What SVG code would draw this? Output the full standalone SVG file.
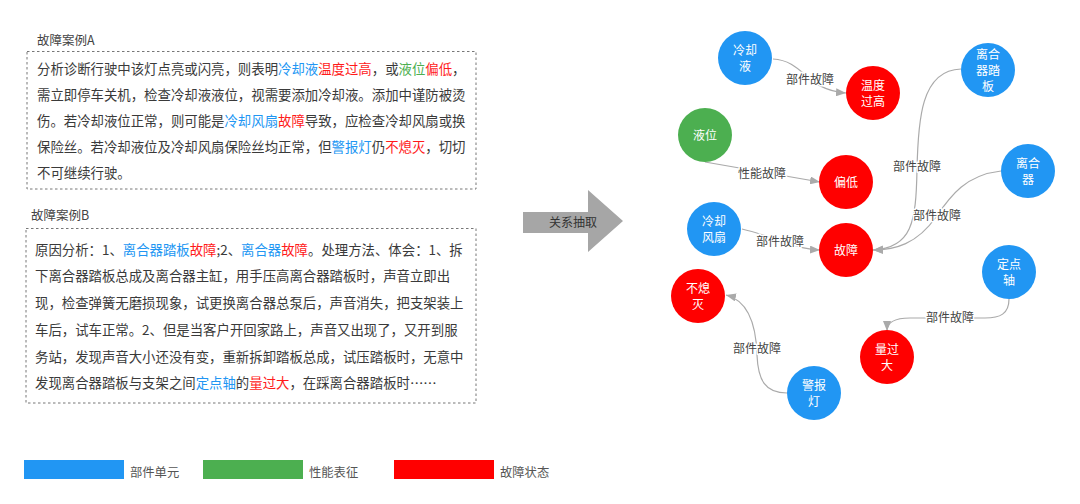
<svg xmlns="http://www.w3.org/2000/svg" width="1080" height="504" viewBox="0 0 1080 504">
<style>
text{font-family:"Noto Sans CJK SC","Liberation Sans",sans-serif;}
.body{font-size:13.4px;fill:#3a3a3a;}
.title{font-size:12.5px;fill:#444;}
.b{fill:#2196F3;}
.r{fill:#ff1a1a;}
.g{fill:#4CAF50;}
.box{fill:none;stroke:#777;stroke-width:1;stroke-dasharray:2.5 2.5;}
.nb{fill:#2196F3;}
.ng{fill:#4CAF50;}
.nr{fill:#ff0000;}
.nt{font-size:12px;fill:#fff;text-anchor:middle;}
.edge{fill:none;stroke:#aaaaaa;stroke-width:1.2;marker-end:url(#arr);}
.el{font-size:12px;fill:#444;text-anchor:middle;stroke:#fff;stroke-width:3px;paint-order:stroke;stroke-linejoin:round;}
.lg{font-size:12.3px;fill:#555;}
</style>
<defs>
<marker id="arr" viewBox="0 0 10 8" refX="10" refY="4" markerWidth="10" markerHeight="8" markerUnits="userSpaceOnUse" orient="auto">
<path d="M0,0 L10,4 L0,8 Z" fill="#aaaaaa"/>
</marker>
</defs>
<rect width="1080" height="504" fill="#fff"/>

<g id="caseA">
<text class="title" x="37" y="45">故障案例A</text>
<rect class="box" x="27" y="51.5" width="449" height="137.5"/>
<text class="body" x="37" y="73.5">分析诊断行驶中该灯点亮或闪亮，则表明<tspan class="b">冷却液</tspan><tspan class="r">温度过高</tspan>，或<tspan class="g">液位</tspan><tspan class="r">偏低</tspan>，</text>
<text class="body" x="37" y="99.7">需立即停车关机，检查冷却液液位，视需要添加冷却液。添加中谨防被烫</text>
<text class="body" x="37" y="125.9">伤。若冷却液位正常，则可能是<tspan class="b">冷却风扇</tspan><tspan class="r">故障</tspan>导致，应检查冷却风扇或换</text>
<text class="body" x="37" y="152.1">保险丝。若冷却液位及冷却风扇保险丝均正常，但<tspan class="b">警报灯</tspan>仍<tspan class="r">不熄灭</tspan>，切切</text>
<text class="body" x="37" y="178.3">不可继续行驶。</text>
</g>

<g id="caseB">
<text class="title" x="31" y="219.5">故障案例B</text>
<rect class="box" x="26" y="228.5" width="450" height="174.5"/>
<text class="body" x="35" y="254.7">原因分析：1、<tspan class="b">离合器踏板</tspan><tspan class="r">故障</tspan>;2、<tspan class="b">离合器</tspan><tspan class="r">故障</tspan>。处理方法、体会：1、拆</text>
<text class="body" x="35" y="281.4">下离合器踏板总成及离合器主缸，用手压高离合器踏板时，声音立即出</text>
<text class="body" x="35" y="308.1">现，检查弹簧无磨损现象，试更换离合器总泵后，声音消失，把支架装上</text>
<text class="body" x="35" y="334.8">车后，试车正常。2、但是当客户开回家路上，声音又出现了，又开到服</text>
<text class="body" x="35" y="361.5">务站，发现声音大小还没有变，重新拆卸踏板总成，试压踏板时，无意中</text>
<text class="body" x="35" y="388.2">发现离合器踏板与支架之间<tspan class="b">定点轴</tspan>的<tspan class="r">量过大</tspan>，在踩离合器踏板时……</text>
</g>

<g id="bigArrow">
<path d="M523,212 L588,212 L588,190 L623,221 L588,252 L588,233 L523,233 Z" fill="#a6a6a6"/>
<text x="573" y="227" font-size="12px" fill="#333" text-anchor="middle">关系抽取</text>
</g>

<g id="connectors">
<path class="edge" d="M773,59 C805,61 805,90 846,93"/>
<path class="edge" d="M705,162 C735,167 790,177 820,182"/>
<path class="edge" d="M742,229 C772,236 795,249 820,250"/>
<path class="edge" d="M961,69 C921,70 918,120 917,170 C916,222 912,248 873,250"/>
<path class="edge" d="M1001,171 C966,175 951,195 936,217 C917,244 895,250 873,250"/>
<path class="edge" d="M1009,299 C1009,314 1000,318 985,318 L910,318 C895,318 887,322 887,331"/>
<path class="edge" d="M787,393 C765,393 758,380 757,355 C756,320 746,300 726,295"/>
<text class="el" x="810" y="84">部件故障</text>
<text class="el" x="762" y="177.5">性能故障</text>
<text class="el" x="780" y="245.5">部件故障</text>
<text class="el" x="917" y="170.5">部件故障</text>
<text class="el" x="937" y="219.5">部件故障</text>
<text class="el" x="950" y="321.5">部件故障</text>
<text class="el" x="757" y="353">部件故障</text>
</g>

<g id="n-lengquean">
<circle class="nb" cx="745" cy="58" r="27"/>
<text class="nt" x="745" y="54.5">冷却</text><text class="nt" x="745" y="70.5">液</text>
</g>
<g id="n-wendu">
<circle class="nr" cx="873" cy="93" r="27"/>
<text class="nt" x="873" y="89.5">温度</text><text class="nt" x="873" y="105.5">过高</text>
</g>
<g id="n-tabban">
<circle class="nb" cx="988" cy="70" r="27"/>
<text class="nt" x="988" y="58.5">离合</text><text class="nt" x="988" y="74.5">器踏</text><text class="nt" x="988" y="90.5">板</text>
</g>
<g id="n-yewei">
<circle class="ng" cx="705" cy="135" r="27"/>
<text class="nt" x="705" y="139.5">液位</text>
</g>
<g id="n-piandi">
<circle class="nr" cx="846" cy="182" r="27"/>
<text class="nt" x="846" y="186.5">偏低</text>
</g>
<g id="n-liheqi">
<circle class="nb" cx="1028" cy="171" r="27"/>
<text class="nt" x="1028" y="167.5">离合</text><text class="nt" x="1028" y="183.5">器</text>
</g>
<g id="n-fengshan">
<circle class="nb" cx="714" cy="229" r="27"/>
<text class="nt" x="714" y="225.5">冷却</text><text class="nt" x="714" y="241.5">风扇</text>
</g>
<g id="n-guzhang">
<circle class="nr" cx="846" cy="250" r="27"/>
<text class="nt" x="846" y="254.5">故障</text>
</g>
<g id="n-dingdian">
<circle class="nb" cx="1009" cy="272" r="27"/>
<text class="nt" x="1009" y="268.5">定点</text><text class="nt" x="1009" y="284.5">轴</text>
</g>
<g id="n-buximie">
<circle class="nr" cx="698" cy="296" r="27"/>
<text class="nt" x="698" y="292.5">不熄</text><text class="nt" x="698" y="308.5">灭</text>
</g>
<g id="n-liangguoda">
<circle class="nr" cx="887" cy="357" r="27"/>
<text class="nt" x="887" y="353.5">量过</text><text class="nt" x="887" y="369.5">大</text>
</g>
<g id="n-jingbao">
<circle class="nb" cx="814" cy="393" r="27"/>
<text class="nt" x="814" y="389.5">警报</text><text class="nt" x="814" y="405.5">灯</text>
</g>

<g id="legend">
<rect x="24" y="460" width="100" height="19" fill="#2196F3"/>
<text class="lg" x="130" y="476.5">部件单元</text>
<rect x="203" y="460" width="100" height="19" fill="#4CAF50"/>
<text class="lg" x="309" y="476.5">性能表征</text>
<rect x="394" y="460" width="100" height="19" fill="#ff0000"/>
<text class="lg" x="500" y="476.5">故障状态</text>
</g>
</svg>
